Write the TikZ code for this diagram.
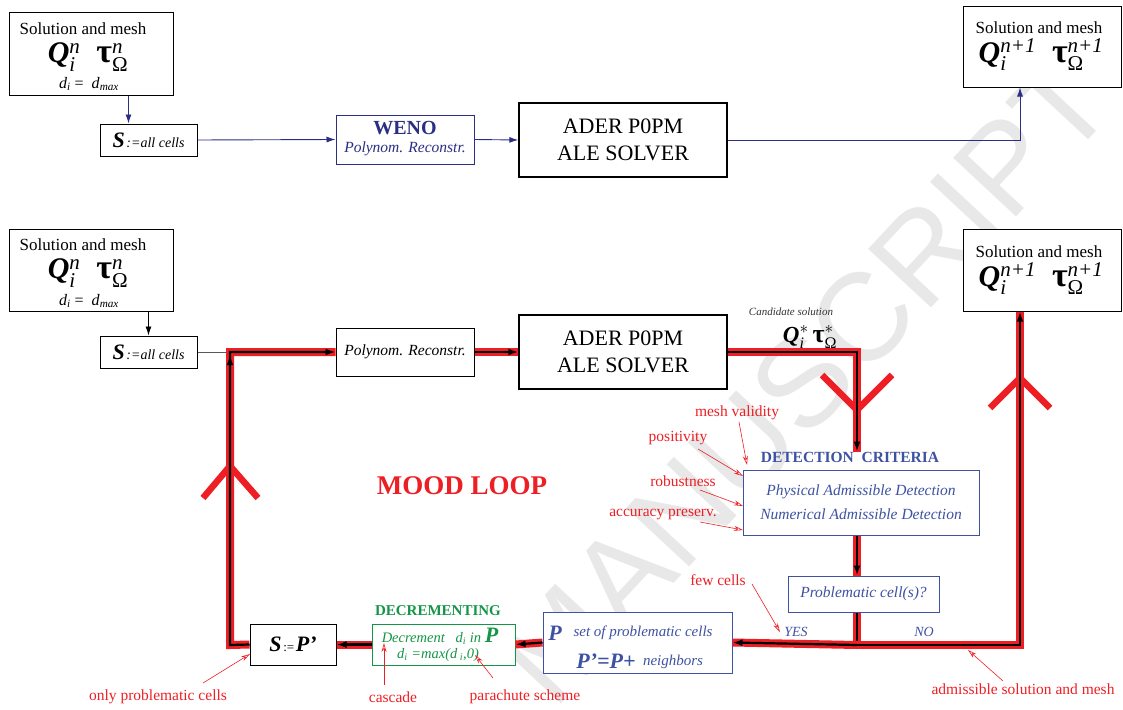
\documentclass[tikz,border=0pt]{standalone}
\usepackage{fontspec}
\usepackage{amsmath}
\setmainfont{Liberation Serif}
\newfontfamily\wmfont{Liberation Sans}
\usetikzlibrary{arrows.meta}
\definecolor{navyc}{RGB}{44,46,131}
\definecolor{detblue}{RGB}{62,82,162}
\definecolor{redc}{RGB}{237,30,36}
\definecolor{greenc}{RGB}{20,150,70}
\definecolor{wmgray}{RGB}{232,232,232}
\newcommand{\fs}[1]{\fontsize{#1}{#1}\selectfont}
\newcommand{\supsub}[2]{$^{\text{\itshape #1}}_{\text{\itshape #2}}$}
\newcommand{\supOm}[1]{$^{\text{\itshape #1}}_{\text{Ω}}$}
\newcommand{\QT}[1]{{\fs{30}\textbf{\textit{Q}}\supsub{#1}{i}\hspace{16pt}{\fs{34}\textbf{τ}}\supOm{#1}}}
\newcommand{\band}[1]{\draw[bandred] #1; \draw[bandcore] #1;}
\newcommand{\bandarrow}[1]{\draw[bandred] #1; \draw[bandcore,-{Latex[length=10pt,width=7pt]}] #1;}
\begin{document}
\begin{tikzpicture}[x=1pt,y=-1pt,
  box/.style={draw=black, line width=1pt, fill=white, inner sep=0pt},
  txt/.style={inner sep=0pt},
  navyline/.style={draw=navyc, line width=0.9pt},
  navyarrow/.style={navyline, -{Latex[length=9pt,width=6pt]}},
  blkarrow/.style={draw=black, line width=0.9pt, -{Latex[length=9pt,width=6pt]}},
  bandred/.style={draw=redc, line width=8pt, line join=miter},
  bandcore/.style={draw=black, line width=2.2pt, line join=miter},
  chev/.style={draw=redc, line width=6.5pt, line join=miter},
  ann/.style={draw=redc, line width=0.6pt, -{Stealth[open,length=9pt,width=5pt]}},
  redlbl/.style={txt, text=redc, font=\fs{15.5}},
]
\useasboundingbox (0,0) rectangle (1123,709);
% watermark
\node[txt, rotate=47, text=wmgray, font=\wmfont\fs{125}] (wm) at (805,380) {MANUSCRIPT};

% big chevrons
\draw[chev] (822,375) -- (857,410) -- (892,375);
\draw[chev] (990,408) -- (1020,378) -- (1050,408);
\draw[chev] (203,498) -- (230,466) -- (258,498);

% ---------------- top row ----------------
\node[box, minimum width=164pt, minimum height=82pt] (sol1) at (91,54) {};
\node[txt] (sol1a) at (83,29) {\fs{17}Solution and mesh};
\node[txt] (sol1b) at (88,57) {\QT{n}};
\node[txt] (sol1c) at (89,84) {\fs{16}\textit{d}\textsubscript{\textit{i}} =\ \ \textit{d}\textsubscript{\textit{max}}};

\node[box, minimum width=97pt, minimum height=32pt] (s1) at (148.5,140) {{\fs{22}\bfseries\itshape S}\,{\fs{14}\itshape :=all cells}};

\node[box, draw=navyc, minimum width=138pt, minimum height=49pt] (weno) at (405,139.5) {};
\node[txt, text=navyc] (wenoa) at (405,128) {\fs{20}\bfseries WENO};
\node[txt, text=navyc] (wenob) at (405,149) {\fs{15.5}\itshape Polynom. Reconstr.};

\node[box, line width=1.4pt, minimum width=208pt, minimum height=74pt, align=center,
  font=\fontsize{22}{27}\selectfont] (ader1) at (623,140) {ADER P0PM\\ALE SOLVER};

\node[box, minimum width=158pt, minimum height=80pt] (tr1) at (1042,47) {};
\node[txt] (tr1a) at (1039,28) {\fs{17}Solution and mesh};
\node[txt] (tr1b) at (1041,55) {\QT{n+1}};

\coordinate (tc) at (1020,140);
\draw[blkarrow, draw=navyc] ([xshift=-20pt]s1.north |- sol1.south) -- ([xshift=-20pt]s1.north);
\draw[navyarrow] (s1.east) -- (weno.west);
\draw[navyarrow] (weno.east) -- (ader1.west);
\draw[navyarrow] (ader1.east) -- (tc) -- (tc |- tr1.south);

% ---------------- bottom row ----------------
\node[box, minimum width=164pt, minimum height=82pt] (sol2) at (91,270) {};
\node[txt] (sol2a) at (83,245) {\fs{17}Solution and mesh};
\node[txt] (sol2b) at (88,273) {\QT{n}};
\node[txt] (sol2c) at (89,301) {\fs{16}\textit{d}\textsubscript{\textit{i}} =\ \ \textit{d}\textsubscript{\textit{max}}};

\node[box, minimum width=97pt, minimum height=32pt] (s2) at (148.5,352) {{\fs{22}\bfseries\itshape S}\,{\fs{14}\itshape :=all cells}};

\node[box, minimum width=138pt, minimum height=48pt] (poly2) at (405,352) {\fs{15.5}\itshape Polynom. Reconstr.};

\node[box, line width=1.4pt, minimum width=208pt, minimum height=74pt, align=center,
  font=\fontsize{22}{27}\selectfont] (ader2) at (623,352) {ADER P0PM\\ALE SOLVER};

\node[box, minimum width=158pt, minimum height=82pt] (tr2) at (1042,270) {};
\node[txt] (tr2a) at (1039,252) {\fs{17}Solution and mesh};
\node[txt] (tr2b) at (1041,279) {\QT{n+1}};

\node[txt, text=black!80] (cand) at (791,312) {\fs{11}\itshape Candidate solution};
\node[txt] (candq) at (810,337) {{\fs{23}\textbf{\textit{Q}}$^{*}_{\text{\itshape i}}$\hspace{4pt}{\fs{26}\textbf{τ}}$^{*}_{\text{Ω}}$}};

\node[txt, text=detblue] (dlabel) at (850,457) {\fs{15.5}\bfseries DETECTION\ \ CRITERIA};
\node[box, draw=detblue, text=detblue, minimum width=236pt, minimum height=65pt, align=center,
  font=\fontsize{15.5}{24}\selectfont\itshape] (det) at (861,502.5)
  {Physical Admissible Detection\\Numerical Admissible Detection};

\node[box, draw=detblue, text=detblue, minimum width=151pt, minimum height=36pt] (prob) at (863.5,594) {\fs{15.5}\itshape Problematic cell(s)?};

\node[txt, text=detblue] (yes) at (796,632) {\fs{14}\itshape YES};
\node[txt, text=detblue] (no) at (924,632) {\fs{14}\itshape NO};

\node[box, draw=detblue, minimum width=189pt, minimum height=61pt] (pbox) at (637.5,642.5) {};
\node[txt, text=detblue] (pl1) at (555,633) {\fs{22}\bfseries\itshape P};
\node[txt, text=detblue] (pl2) at (643,633) {\fs{15}\itshape set of problematic cells};
\node[txt, text=detblue] (pl3) at (606,661) {\fs{22}\bfseries\itshape P’=P+};
\node[txt, text=detblue] (pl4) at (673,662) {\fs{15}\itshape neighbors};

\node[txt, text=greenc] (declbl) at (438,611) {\fs{15}\bfseries DECREMENTING};
\node[box, draw=greenc, minimum width=143pt, minimum height=41pt] (dec) at (443.5,644.5) {};
\node[txt, text=greenc] (dec1) at (440,636) {\fs{14.5}\itshape Decrement\ \ \ d\textsubscript{i} in \fs{22}\bfseries P};
\node[txt, text=greenc] (dec2) at (438,655) {\fs{14.5}\itshape d\textsubscript{i} =max(d\,\textsubscript{i},0)};

\node[box, minimum width=86pt, minimum height=41pt] (spbox) at (293,644.5) {{\fs{22}\bfseries\itshape S}\,{\fs{13}:=}\,{\fs{22}\bfseries\itshape P’}};

\node[txt, text=redc] (mood) at (462,486) {\fs{27}\bfseries MOOD LOOP};

% red labels
\node[redlbl] (lmesh) at (737,413) {mesh validity};
\node[redlbl] (lpos) at (678,438) {positivity};
\node[redlbl] (lrob) at (683,481) {robustness};
\node[redlbl] (lacc) at (663,515) {accuracy preserv.};
\node[redlbl] (lfew) at (718,580) {few cells};
\node[redlbl] (ladm) at (1023,689) {admissible solution and mesh};
\node[redlbl] (lonly) at (158,697) {only problematic cells};
\node[redlbl] (lcas) at (393,697) {cascade};
\node[redlbl] (lpar) at (525,697) {parachute scheme};

% connectors bottom
\coordinate (lc) at (230,352);
\coordinate (lb) at (230,645);
\coordinate (lm) at (230,395);
\coordinate (lt) at (230,355);
\coordinate (j) at (857,645);
\coordinate (rc) at (1020,645);
\coordinate (dc) at (857,352);

\draw[blkarrow] (sol2.south -| s2.north) -- (s2.north);
\draw[draw=black!65, line width=1pt] (s2.east) -- (lc);

\bandarrow{(spbox.west) -- (lb) -- (lc) -- (poly2.west)}
\draw[bandcore,-{Latex[length=10pt,width=7pt]}] (lm) -- (lt);
\bandarrow{(poly2.east) -- (ader2.west)}
\bandarrow{(ader2.east) -- (dc) -- (dlabel.north -| dc)}
\bandarrow{(det.south -| j) -- (prob.north -| j)}
\band{(prob.south -| j) -- (j)}
\bandarrow{(j) -- (pbox.east)}
\bandarrow{(j) -- (rc) -- (rc |- tr2.south)}
\bandarrow{(pbox.west) -- (dec.east)}
\bandarrow{(dec.west) -- (spbox.east)}

% annotations
\coordinate (amesh0) at (739,422); \coordinate (amesh1) at (747,465);
\coordinate (apos0) at (698,449);  \coordinate (apos1) at (743,476);
\coordinate (arob0) at (700,490);  \coordinate (arob1) at (743,506);
\coordinate (aacc0) at (700,522);  \coordinate (aacc1) at (743,530);
\coordinate (afew0) at (752,584);  \coordinate (afew1) at (780,632);
\coordinate (aadm0) at (1003,681); \coordinate (aadm1) at (968,650);
\coordinate (aonly0) at (203,683); \coordinate (aonly1) at (250,654);
\coordinate (acas0) at (384,685);  \coordinate (acas1) at (384,643);
\coordinate (apar0) at (493,678);  \coordinate (apar1) at (475,655);
\draw[ann] (amesh0) -- (amesh1);
\draw[ann] (apos0) -- (apos1);
\draw[ann] (arob0) -- (arob1);
\draw[ann] (aacc0) -- (aacc1);
\draw[ann] (afew0) -- (afew1);
\draw[ann] (aadm0) -- (aadm1);
\draw[ann] (aonly0) -- (aonly1);
\draw[ann] (acas0) -- (acas1);
\draw[ann] (apar0) -- (apar1);
\end{tikzpicture}
\end{document}
